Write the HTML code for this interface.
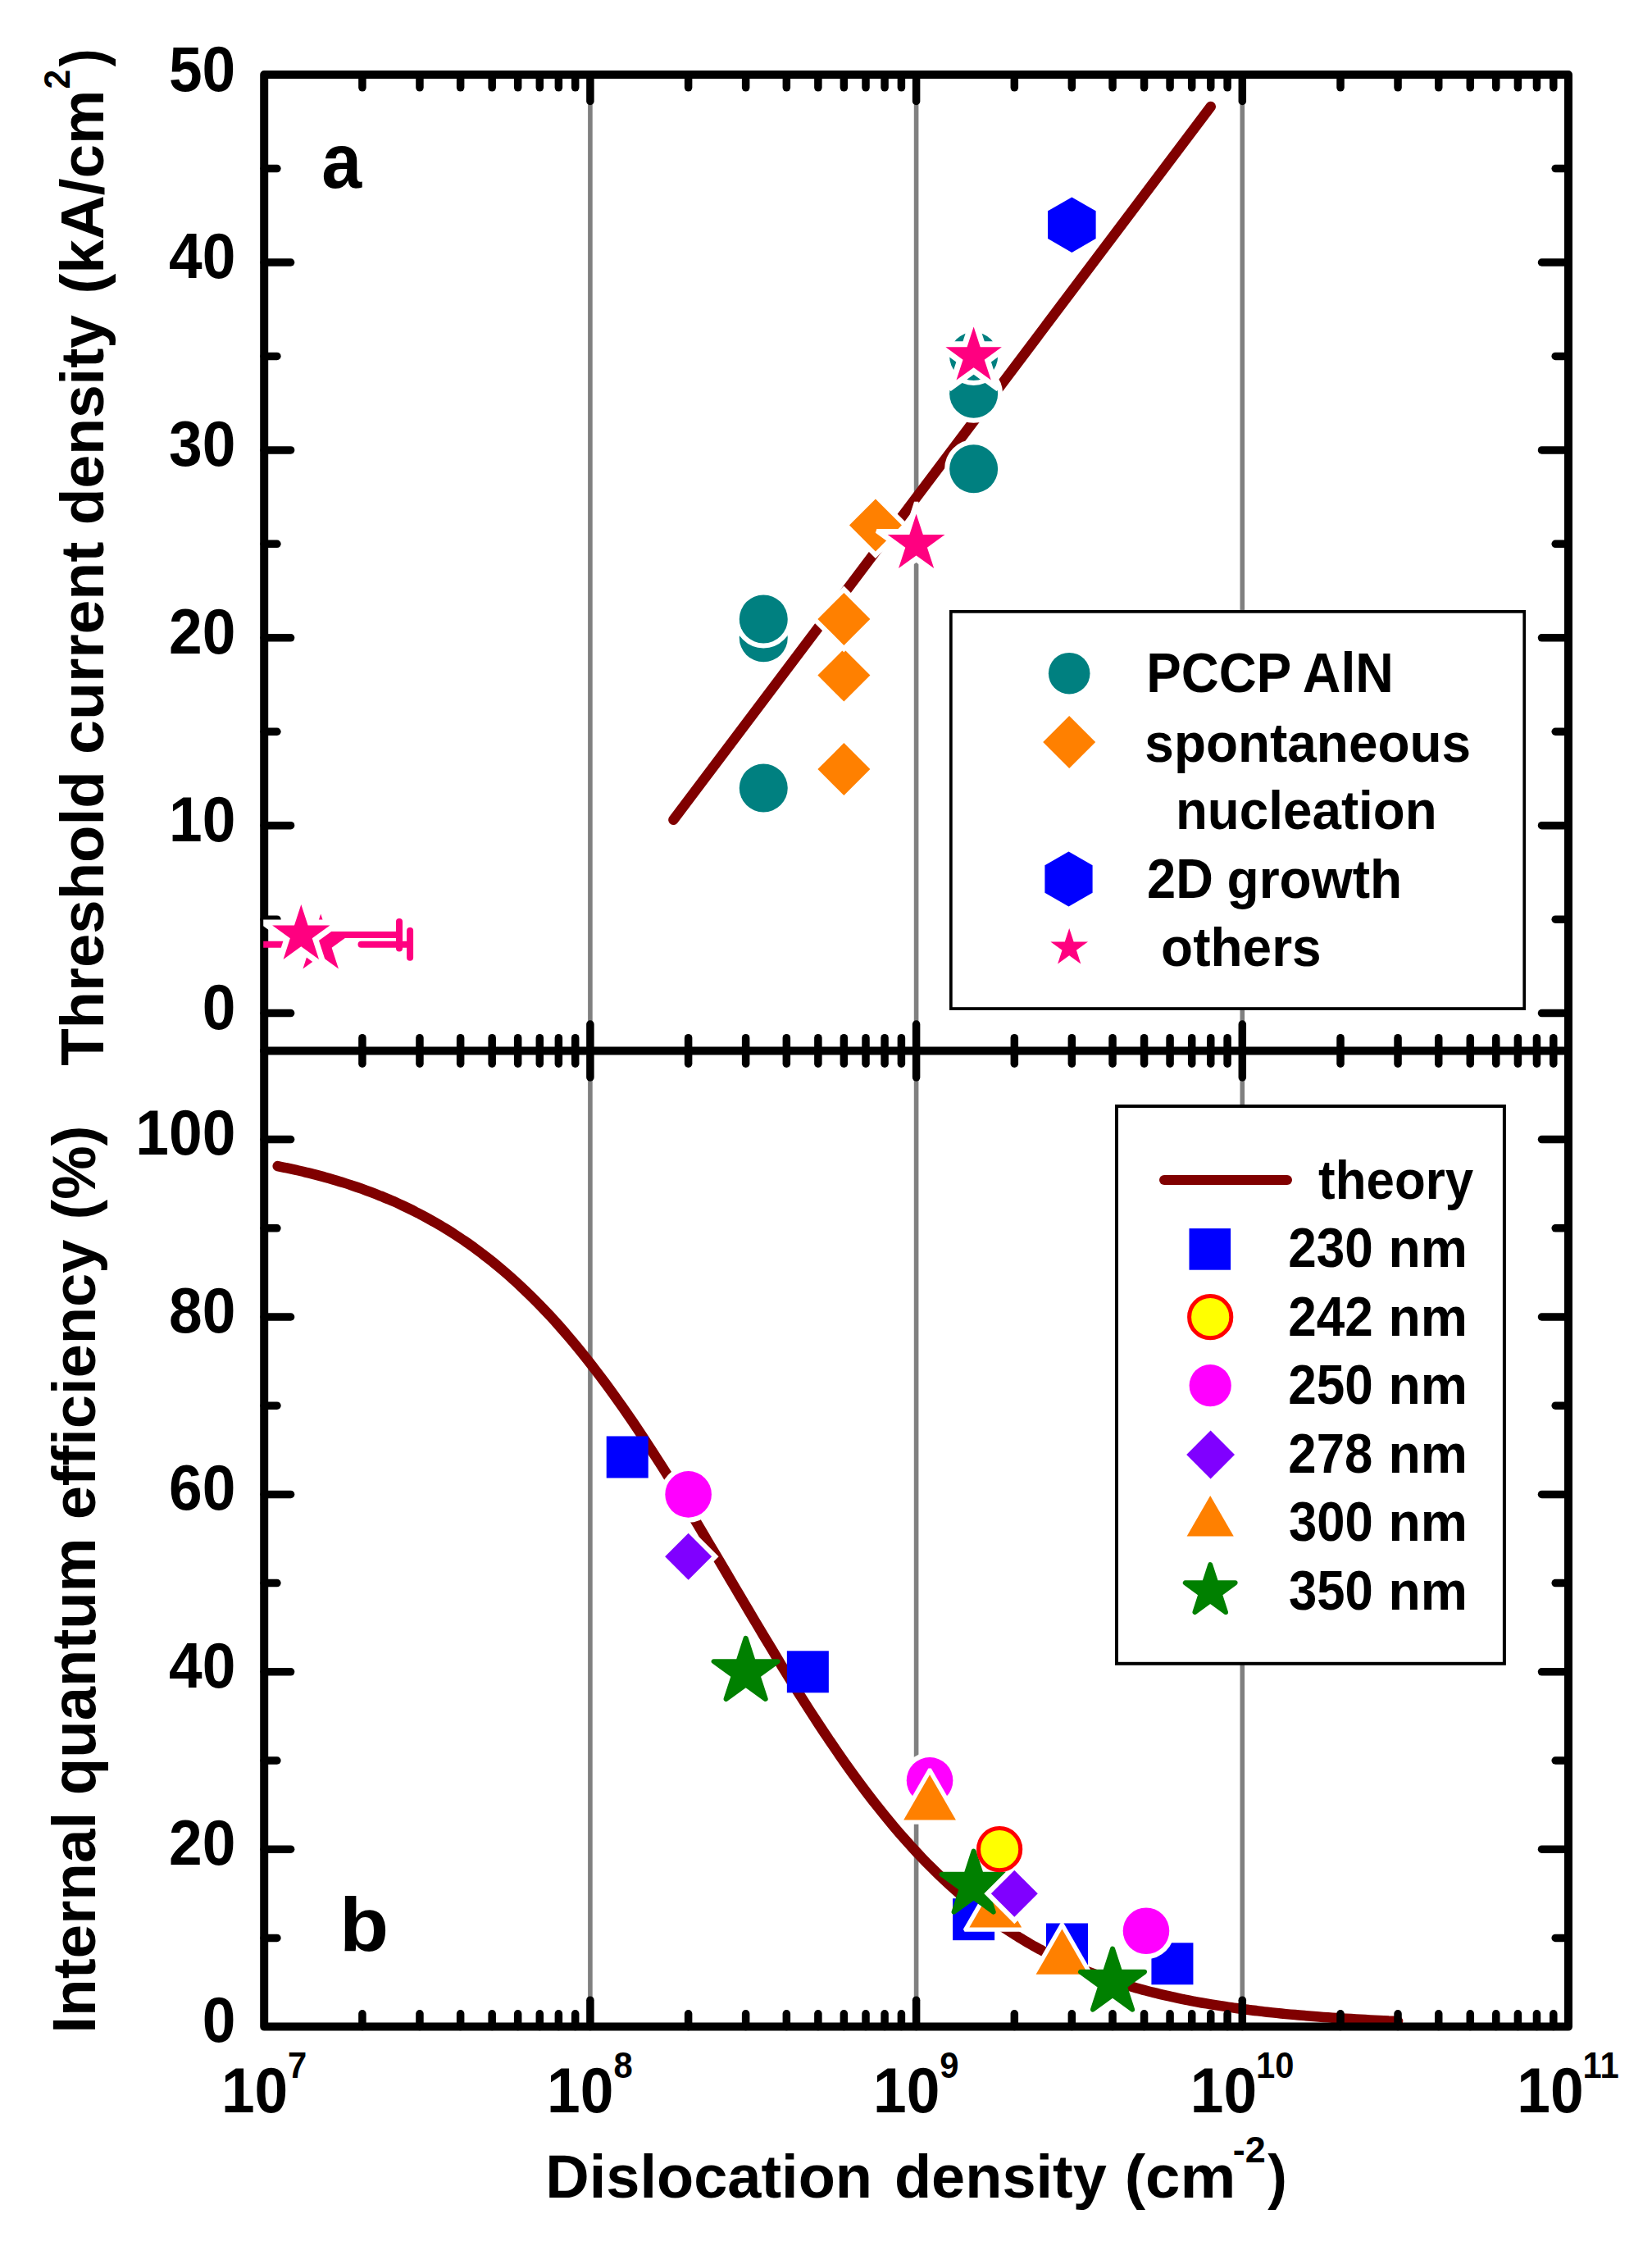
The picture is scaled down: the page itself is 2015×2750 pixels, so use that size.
<!DOCTYPE html><html><head><meta charset="utf-8"><title>Figure</title><style>html,body{margin:0;padding:0;background:#fff}svg{display:block}</style></head><body>
<svg width="2015" height="2750" viewBox="0 0 2015 2750">
<rect width="2015" height="2750" fill="#fff"/>
<defs><clipPath id="c1"><rect x="321.2" y="91.1" width="1592.8" height="1190.3"/></clipPath><clipPath id="c2"><rect x="321.2" y="1281.4" width="1592.8" height="1196.2"/></clipPath></defs>
<line x1="719.90" y1="91.1" x2="719.90" y2="2471.6" stroke="#808080" stroke-width="5.6"/>
<line x1="1117.60" y1="91.1" x2="1117.60" y2="2471.6" stroke="#808080" stroke-width="5.6"/>
<line x1="1515.30" y1="91.1" x2="1515.30" y2="2471.6" stroke="#808080" stroke-width="5.6"/>
<line x1="821.42" y1="999.85" x2="1476.76" y2="130.01" stroke="#800000" stroke-width="12.5" stroke-linecap="round"/>
<path d="M338.7,1422.1 C340.6,1422.5 346.3,1423.6 350.0,1424.4 C353.8,1425.2 357.6,1426.1 361.4,1426.9 C365.2,1427.8 369.0,1428.6 372.8,1429.6 C376.6,1430.5 380.4,1431.4 384.2,1432.4 C388.0,1433.4 391.8,1434.4 395.6,1435.4 C399.4,1436.5 403.2,1437.6 407.0,1438.7 C410.8,1439.8 414.6,1440.9 418.4,1442.1 C422.2,1443.3 426.0,1444.5 429.8,1445.8 C433.6,1447.1 437.3,1448.4 441.1,1449.7 C444.9,1451.1 448.7,1452.5 452.5,1453.9 C456.3,1455.3 460.1,1456.8 463.9,1458.4 C467.7,1459.9 471.5,1461.5 475.3,1463.1 C479.1,1464.7 482.9,1466.4 486.7,1468.1 C490.5,1469.9 494.3,1471.7 498.1,1473.5 C501.9,1475.3 505.7,1477.2 509.5,1479.2 C513.3,1481.1 517.1,1483.1 520.8,1485.2 C524.6,1487.3 528.4,1489.4 532.2,1491.6 C536.0,1493.8 539.8,1496.1 543.6,1498.4 C547.4,1500.7 551.2,1503.1 555.0,1505.6 C558.8,1508.1 562.6,1510.6 566.4,1513.2 C570.2,1515.8 574.0,1518.5 577.8,1521.2 C581.6,1524.0 585.4,1526.8 589.2,1529.7 C593.0,1532.6 596.8,1535.6 600.6,1538.6 C604.3,1541.7 608.1,1544.8 611.9,1548.0 C615.7,1551.2 619.5,1554.5 623.3,1557.9 C627.1,1561.3 630.9,1564.8 634.7,1568.3 C638.5,1571.9 642.3,1575.5 646.1,1579.2 C649.9,1582.9 653.7,1586.7 657.5,1590.6 C661.3,1594.5 665.1,1598.5 668.9,1602.6 C672.7,1606.6 676.5,1610.8 680.3,1615.0 C684.1,1619.3 687.9,1623.6 691.6,1628.0 C695.4,1632.4 699.2,1636.9 703.0,1641.5 C706.8,1646.1 710.6,1650.8 714.4,1655.6 C718.2,1660.4 722.0,1665.2 725.8,1670.2 C729.6,1675.1 733.4,1680.1 737.2,1685.2 C741.0,1690.3 744.8,1695.5 748.6,1700.8 C752.4,1706.1 756.2,1711.4 760.0,1716.8 C763.8,1722.3 767.6,1727.8 771.4,1733.4 C775.1,1738.9 778.9,1744.6 782.7,1750.3 C786.5,1756.0 790.3,1761.8 794.1,1767.7 C797.9,1773.5 801.7,1779.4 805.5,1785.4 C809.3,1791.3 813.1,1797.4 816.9,1803.5 C820.7,1809.5 824.5,1815.7 828.3,1821.8 C832.1,1828.0 835.9,1834.2 839.7,1840.5 C843.5,1846.7 847.3,1853.0 851.1,1859.3 C854.9,1865.6 858.6,1872.0 862.4,1878.4 C866.2,1884.7 870.0,1891.1 873.8,1897.5 C877.6,1904.0 881.4,1910.4 885.2,1916.8 C889.0,1923.2 892.8,1929.7 896.6,1936.1 C900.4,1942.5 904.2,1949.0 908.0,1955.4 C911.8,1961.8 915.6,1968.2 919.4,1974.6 C923.2,1981.0 927.0,1987.3 930.8,1993.7 C934.6,2000.0 938.4,2006.4 942.2,2012.6 C945.9,2018.9 949.7,2025.2 953.5,2031.4 C957.3,2037.6 961.1,2043.8 964.9,2049.9 C968.7,2056.0 972.5,2062.1 976.3,2068.1 C980.1,2074.1 983.9,2080.1 987.7,2086.0 C991.5,2091.9 995.3,2097.7 999.1,2103.5 C1002.9,2109.3 1006.7,2115.0 1010.5,2120.6 C1014.3,2126.2 1018.1,2131.8 1021.9,2137.3 C1025.7,2142.8 1029.4,2148.2 1033.2,2153.5 C1037.0,2158.9 1040.8,2164.1 1044.6,2169.3 C1048.4,2174.5 1052.2,2179.6 1056.0,2184.6 C1059.8,2189.6 1063.6,2194.6 1067.4,2199.4 C1071.2,2204.2 1075.0,2209.0 1078.8,2213.7 C1082.6,2218.3 1086.4,2222.9 1090.2,2227.4 C1094.0,2231.9 1097.8,2236.3 1101.6,2240.7 C1105.4,2245.0 1109.2,2249.2 1112.9,2253.3 C1116.7,2257.5 1120.5,2261.5 1124.3,2265.5 C1128.1,2269.5 1131.9,2273.4 1135.7,2277.1 C1139.5,2280.9 1143.3,2284.6 1147.1,2288.3 C1150.9,2291.9 1154.7,2295.4 1158.5,2298.9 C1162.3,2302.3 1166.1,2305.7 1169.9,2309.0 C1173.7,2312.3 1177.5,2315.5 1181.3,2318.6 C1185.1,2321.7 1188.9,2324.8 1192.7,2327.7 C1196.5,2330.7 1200.2,2333.6 1204.0,2336.4 C1207.8,2339.2 1211.6,2341.9 1215.4,2344.6 C1219.2,2347.3 1223.0,2349.9 1226.8,2352.4 C1230.6,2354.9 1234.4,2357.4 1238.2,2359.7 C1242.0,2362.1 1245.8,2364.4 1249.6,2366.7 C1253.4,2369.0 1257.2,2371.1 1261.0,2373.3 C1264.8,2375.4 1268.6,2377.5 1272.4,2379.5 C1276.2,2381.5 1280.0,2383.4 1283.7,2385.3 C1287.5,2387.2 1291.3,2389.0 1295.1,2390.8 C1298.9,2392.6 1302.7,2394.3 1306.5,2396.0 C1310.3,2397.6 1314.1,2399.3 1317.9,2400.8 C1321.7,2402.4 1325.5,2403.9 1329.3,2405.4 C1333.1,2406.9 1336.9,2408.3 1340.7,2409.7 C1344.5,2411.1 1348.3,2412.4 1352.1,2413.7 C1355.9,2415.0 1359.7,2416.3 1363.5,2417.5 C1367.2,2418.7 1371.0,2419.9 1374.8,2421.1 C1378.6,2422.2 1382.4,2423.3 1386.2,2424.4 C1390.0,2425.5 1393.8,2426.5 1397.6,2427.5 C1401.4,2428.5 1405.2,2429.5 1409.0,2430.4 C1412.8,2431.4 1416.6,2432.3 1420.4,2433.2 C1424.2,2434.1 1428.0,2434.9 1431.8,2435.7 C1435.6,2436.6 1439.4,2437.3 1443.2,2438.1 C1447.0,2438.9 1450.8,2439.6 1454.5,2440.4 C1458.3,2441.1 1462.1,2441.8 1465.9,2442.5 C1469.7,2443.1 1473.5,2443.8 1477.3,2444.4 C1481.1,2445.0 1484.9,2445.6 1488.7,2446.2 C1492.5,2446.8 1496.3,2447.4 1500.1,2447.9 C1503.9,2448.5 1507.7,2449.0 1511.5,2449.5 C1515.3,2450.1 1519.1,2450.5 1522.9,2451.0 C1526.7,2451.5 1530.5,2452.0 1534.3,2452.4 C1538.0,2452.9 1541.8,2453.3 1545.6,2453.7 C1549.4,2454.1 1553.2,2454.5 1557.0,2454.9 C1560.8,2455.3 1564.6,2455.7 1568.4,2456.1 C1572.2,2456.4 1576.0,2456.8 1579.8,2457.1 C1583.6,2457.5 1587.4,2457.8 1591.2,2458.1 C1595.0,2458.4 1598.8,2458.7 1602.6,2459.0 C1606.4,2459.3 1610.2,2459.6 1614.0,2459.9 C1617.8,2460.2 1621.5,2460.4 1625.3,2460.7 C1629.1,2460.9 1632.9,2461.2 1636.7,2461.4 C1640.5,2461.7 1644.3,2461.9 1648.1,2462.1 C1651.9,2462.3 1655.7,2462.6 1659.5,2462.8 C1663.3,2463.0 1667.1,2463.2 1670.9,2463.4 C1674.7,2463.6 1678.5,2463.7 1682.3,2463.9 C1686.1,2464.1 1689.9,2464.3 1693.7,2464.5 C1697.5,2464.6 1703.2,2464.9 1705.1,2464.9" fill="none" stroke="#800000" stroke-width="12.5" stroke-linecap="round" stroke-linejoin="round"/>
<g stroke="#000" stroke-width="10" stroke-linecap="round" fill="none">
<path d="M322.2,91.1 H1913.0 V2471.6 H322.2 Z" stroke-linejoin="round"/>
<line x1="322.2" y1="1281.4" x2="1913.0" y2="1281.4"/>
</g>
<g stroke="#000" stroke-width="9.5" stroke-linecap="round">
<line x1="441.92" y1="91.1" x2="441.92" y2="106.8"/>
<line x1="441.92" y1="1265.7" x2="441.92" y2="1297.2"/>
<line x1="441.92" y1="2471.6" x2="441.92" y2="2455.8"/>
<line x1="511.95" y1="91.1" x2="511.95" y2="106.8"/>
<line x1="511.95" y1="1265.7" x2="511.95" y2="1297.2"/>
<line x1="511.95" y1="2471.6" x2="511.95" y2="2455.8"/>
<line x1="561.64" y1="91.1" x2="561.64" y2="106.8"/>
<line x1="561.64" y1="1265.7" x2="561.64" y2="1297.2"/>
<line x1="561.64" y1="2471.6" x2="561.64" y2="2455.8"/>
<line x1="600.18" y1="91.1" x2="600.18" y2="106.8"/>
<line x1="600.18" y1="1265.7" x2="600.18" y2="1297.2"/>
<line x1="600.18" y1="2471.6" x2="600.18" y2="2455.8"/>
<line x1="631.67" y1="91.1" x2="631.67" y2="106.8"/>
<line x1="631.67" y1="1265.7" x2="631.67" y2="1297.2"/>
<line x1="631.67" y1="2471.6" x2="631.67" y2="2455.8"/>
<line x1="658.30" y1="91.1" x2="658.30" y2="106.8"/>
<line x1="658.30" y1="1265.7" x2="658.30" y2="1297.2"/>
<line x1="658.30" y1="2471.6" x2="658.30" y2="2455.8"/>
<line x1="681.36" y1="91.1" x2="681.36" y2="106.8"/>
<line x1="681.36" y1="1265.7" x2="681.36" y2="1297.2"/>
<line x1="681.36" y1="2471.6" x2="681.36" y2="2455.8"/>
<line x1="701.70" y1="91.1" x2="701.70" y2="106.8"/>
<line x1="701.70" y1="1265.7" x2="701.70" y2="1297.2"/>
<line x1="701.70" y1="2471.6" x2="701.70" y2="2455.8"/>
<line x1="719.90" y1="91.1" x2="719.90" y2="123.5"/>
<line x1="719.90" y1="1249.0" x2="719.90" y2="1313.9"/>
<line x1="719.90" y1="2471.6" x2="719.90" y2="2439.2"/>
<line x1="839.62" y1="91.1" x2="839.62" y2="106.8"/>
<line x1="839.62" y1="1265.7" x2="839.62" y2="1297.2"/>
<line x1="839.62" y1="2471.6" x2="839.62" y2="2455.8"/>
<line x1="909.65" y1="91.1" x2="909.65" y2="106.8"/>
<line x1="909.65" y1="1265.7" x2="909.65" y2="1297.2"/>
<line x1="909.65" y1="2471.6" x2="909.65" y2="2455.8"/>
<line x1="959.34" y1="91.1" x2="959.34" y2="106.8"/>
<line x1="959.34" y1="1265.7" x2="959.34" y2="1297.2"/>
<line x1="959.34" y1="2471.6" x2="959.34" y2="2455.8"/>
<line x1="997.88" y1="91.1" x2="997.88" y2="106.8"/>
<line x1="997.88" y1="1265.7" x2="997.88" y2="1297.2"/>
<line x1="997.88" y1="2471.6" x2="997.88" y2="2455.8"/>
<line x1="1029.37" y1="91.1" x2="1029.37" y2="106.8"/>
<line x1="1029.37" y1="1265.7" x2="1029.37" y2="1297.2"/>
<line x1="1029.37" y1="2471.6" x2="1029.37" y2="2455.8"/>
<line x1="1056.00" y1="91.1" x2="1056.00" y2="106.8"/>
<line x1="1056.00" y1="1265.7" x2="1056.00" y2="1297.2"/>
<line x1="1056.00" y1="2471.6" x2="1056.00" y2="2455.8"/>
<line x1="1079.06" y1="91.1" x2="1079.06" y2="106.8"/>
<line x1="1079.06" y1="1265.7" x2="1079.06" y2="1297.2"/>
<line x1="1079.06" y1="2471.6" x2="1079.06" y2="2455.8"/>
<line x1="1099.40" y1="91.1" x2="1099.40" y2="106.8"/>
<line x1="1099.40" y1="1265.7" x2="1099.40" y2="1297.2"/>
<line x1="1099.40" y1="2471.6" x2="1099.40" y2="2455.8"/>
<line x1="1117.60" y1="91.1" x2="1117.60" y2="123.5"/>
<line x1="1117.60" y1="1249.0" x2="1117.60" y2="1313.9"/>
<line x1="1117.60" y1="2471.6" x2="1117.60" y2="2439.2"/>
<line x1="1237.32" y1="91.1" x2="1237.32" y2="106.8"/>
<line x1="1237.32" y1="1265.7" x2="1237.32" y2="1297.2"/>
<line x1="1237.32" y1="2471.6" x2="1237.32" y2="2455.8"/>
<line x1="1307.35" y1="91.1" x2="1307.35" y2="106.8"/>
<line x1="1307.35" y1="1265.7" x2="1307.35" y2="1297.2"/>
<line x1="1307.35" y1="2471.6" x2="1307.35" y2="2455.8"/>
<line x1="1357.04" y1="91.1" x2="1357.04" y2="106.8"/>
<line x1="1357.04" y1="1265.7" x2="1357.04" y2="1297.2"/>
<line x1="1357.04" y1="2471.6" x2="1357.04" y2="2455.8"/>
<line x1="1395.58" y1="91.1" x2="1395.58" y2="106.8"/>
<line x1="1395.58" y1="1265.7" x2="1395.58" y2="1297.2"/>
<line x1="1395.58" y1="2471.6" x2="1395.58" y2="2455.8"/>
<line x1="1427.07" y1="91.1" x2="1427.07" y2="106.8"/>
<line x1="1427.07" y1="1265.7" x2="1427.07" y2="1297.2"/>
<line x1="1427.07" y1="2471.6" x2="1427.07" y2="2455.8"/>
<line x1="1453.70" y1="91.1" x2="1453.70" y2="106.8"/>
<line x1="1453.70" y1="1265.7" x2="1453.70" y2="1297.2"/>
<line x1="1453.70" y1="2471.6" x2="1453.70" y2="2455.8"/>
<line x1="1476.76" y1="91.1" x2="1476.76" y2="106.8"/>
<line x1="1476.76" y1="1265.7" x2="1476.76" y2="1297.2"/>
<line x1="1476.76" y1="2471.6" x2="1476.76" y2="2455.8"/>
<line x1="1497.10" y1="91.1" x2="1497.10" y2="106.8"/>
<line x1="1497.10" y1="1265.7" x2="1497.10" y2="1297.2"/>
<line x1="1497.10" y1="2471.6" x2="1497.10" y2="2455.8"/>
<line x1="1515.30" y1="91.1" x2="1515.30" y2="123.5"/>
<line x1="1515.30" y1="1249.0" x2="1515.30" y2="1313.9"/>
<line x1="1515.30" y1="2471.6" x2="1515.30" y2="2439.2"/>
<line x1="1635.02" y1="91.1" x2="1635.02" y2="106.8"/>
<line x1="1635.02" y1="1265.7" x2="1635.02" y2="1297.2"/>
<line x1="1635.02" y1="2471.6" x2="1635.02" y2="2455.8"/>
<line x1="1705.05" y1="91.1" x2="1705.05" y2="106.8"/>
<line x1="1705.05" y1="1265.7" x2="1705.05" y2="1297.2"/>
<line x1="1705.05" y1="2471.6" x2="1705.05" y2="2455.8"/>
<line x1="1754.74" y1="91.1" x2="1754.74" y2="106.8"/>
<line x1="1754.74" y1="1265.7" x2="1754.74" y2="1297.2"/>
<line x1="1754.74" y1="2471.6" x2="1754.74" y2="2455.8"/>
<line x1="1793.28" y1="91.1" x2="1793.28" y2="106.8"/>
<line x1="1793.28" y1="1265.7" x2="1793.28" y2="1297.2"/>
<line x1="1793.28" y1="2471.6" x2="1793.28" y2="2455.8"/>
<line x1="1824.77" y1="91.1" x2="1824.77" y2="106.8"/>
<line x1="1824.77" y1="1265.7" x2="1824.77" y2="1297.2"/>
<line x1="1824.77" y1="2471.6" x2="1824.77" y2="2455.8"/>
<line x1="1851.40" y1="91.1" x2="1851.40" y2="106.8"/>
<line x1="1851.40" y1="1265.7" x2="1851.40" y2="1297.2"/>
<line x1="1851.40" y1="2471.6" x2="1851.40" y2="2455.8"/>
<line x1="1874.46" y1="91.1" x2="1874.46" y2="106.8"/>
<line x1="1874.46" y1="1265.7" x2="1874.46" y2="1297.2"/>
<line x1="1874.46" y1="2471.6" x2="1874.46" y2="2455.8"/>
<line x1="1894.80" y1="91.1" x2="1894.80" y2="106.8"/>
<line x1="1894.80" y1="1265.7" x2="1894.80" y2="1297.2"/>
<line x1="1894.80" y1="2471.6" x2="1894.80" y2="2455.8"/>
<line x1="322.2" y1="1235.62" x2="354.6" y2="1235.62"/>
<line x1="1913.0" y1="1235.62" x2="1880.5" y2="1235.62"/>
<line x1="322.2" y1="1121.17" x2="337.9" y2="1121.17"/>
<line x1="1913.0" y1="1121.17" x2="1897.2" y2="1121.17"/>
<line x1="322.2" y1="1006.72" x2="354.6" y2="1006.72"/>
<line x1="1913.0" y1="1006.72" x2="1880.5" y2="1006.72"/>
<line x1="322.2" y1="892.26" x2="337.9" y2="892.26"/>
<line x1="1913.0" y1="892.26" x2="1897.2" y2="892.26"/>
<line x1="322.2" y1="777.81" x2="354.6" y2="777.81"/>
<line x1="1913.0" y1="777.81" x2="1880.5" y2="777.81"/>
<line x1="322.2" y1="663.36" x2="337.9" y2="663.36"/>
<line x1="1913.0" y1="663.36" x2="1897.2" y2="663.36"/>
<line x1="322.2" y1="548.91" x2="354.6" y2="548.91"/>
<line x1="1913.0" y1="548.91" x2="1880.5" y2="548.91"/>
<line x1="322.2" y1="434.46" x2="337.9" y2="434.46"/>
<line x1="1913.0" y1="434.46" x2="1897.2" y2="434.46"/>
<line x1="322.2" y1="320.00" x2="354.6" y2="320.00"/>
<line x1="1913.0" y1="320.00" x2="1880.5" y2="320.00"/>
<line x1="322.2" y1="205.55" x2="337.9" y2="205.55"/>
<line x1="1913.0" y1="205.55" x2="1897.2" y2="205.55"/>
<line x1="322.2" y1="2363.40" x2="337.9" y2="2363.40"/>
<line x1="1913.0" y1="2363.40" x2="1897.2" y2="2363.40"/>
<line x1="322.2" y1="2255.20" x2="354.6" y2="2255.20"/>
<line x1="1913.0" y1="2255.20" x2="1880.5" y2="2255.20"/>
<line x1="322.2" y1="2147.00" x2="337.9" y2="2147.00"/>
<line x1="1913.0" y1="2147.00" x2="1897.2" y2="2147.00"/>
<line x1="322.2" y1="2038.80" x2="354.6" y2="2038.80"/>
<line x1="1913.0" y1="2038.80" x2="1880.5" y2="2038.80"/>
<line x1="322.2" y1="1930.60" x2="337.9" y2="1930.60"/>
<line x1="1913.0" y1="1930.60" x2="1897.2" y2="1930.60"/>
<line x1="322.2" y1="1822.40" x2="354.6" y2="1822.40"/>
<line x1="1913.0" y1="1822.40" x2="1880.5" y2="1822.40"/>
<line x1="322.2" y1="1714.20" x2="337.9" y2="1714.20"/>
<line x1="1913.0" y1="1714.20" x2="1897.2" y2="1714.20"/>
<line x1="322.2" y1="1606.00" x2="354.6" y2="1606.00"/>
<line x1="1913.0" y1="1606.00" x2="1880.5" y2="1606.00"/>
<line x1="322.2" y1="1497.80" x2="337.9" y2="1497.80"/>
<line x1="1913.0" y1="1497.80" x2="1897.2" y2="1497.80"/>
<line x1="322.2" y1="1389.60" x2="354.6" y2="1389.60"/>
<line x1="1913.0" y1="1389.60" x2="1880.5" y2="1389.60"/>
</g>
<g clip-path="url(#c1)">
<circle cx="931.27" cy="960.93" r="29.5" fill="#008080" stroke="#fff" stroke-width="12" stroke-linejoin="miter" stroke-miterlimit="10" paint-order="stroke"/>
<circle cx="931.27" cy="777.81" r="29.5" fill="#008080" stroke="#fff" stroke-width="12" stroke-linejoin="miter" stroke-miterlimit="10" paint-order="stroke"/>
<circle cx="931.27" cy="754.92" r="29.5" fill="#008080" stroke="#fff" stroke-width="12" stroke-linejoin="miter" stroke-miterlimit="10" paint-order="stroke"/>
<circle cx="1187.63" cy="571.80" r="29.5" fill="#008080" stroke="#fff" stroke-width="12" stroke-linejoin="miter" stroke-miterlimit="10" paint-order="stroke"/>
<circle cx="1187.63" cy="480.24" r="29.5" fill="#008080" stroke="#fff" stroke-width="12" stroke-linejoin="miter" stroke-miterlimit="10" paint-order="stroke"/>
<circle cx="1187.63" cy="434.46" r="29.5" fill="#008080" stroke="#fff" stroke-width="12" stroke-linejoin="miter" stroke-miterlimit="10" paint-order="stroke"/>
<polygon points="1029.37,906.04 1061.37,938.04 1029.37,970.04 997.37,938.04" fill="#FF8000" stroke="#fff" stroke-width="12" stroke-linejoin="miter" stroke-miterlimit="10" paint-order="stroke"/>
<polygon points="1029.37,791.59 1061.37,823.59 1029.37,855.59 997.37,823.59" fill="#FF8000" stroke="#fff" stroke-width="12" stroke-linejoin="miter" stroke-miterlimit="10" paint-order="stroke"/>
<polygon points="1029.37,722.92 1061.37,754.92 1029.37,786.92 997.37,754.92" fill="#FF8000" stroke="#fff" stroke-width="12" stroke-linejoin="miter" stroke-miterlimit="10" paint-order="stroke"/>
<polygon points="1067.91,608.47 1099.91,640.47 1067.91,672.47 1035.91,640.47" fill="#FF8000" stroke="#fff" stroke-width="12" stroke-linejoin="miter" stroke-miterlimit="10" paint-order="stroke"/>
<polygon points="1307.35,240.42 1336.62,257.32 1336.62,291.12 1307.35,308.02 1278.08,291.12 1278.08,257.32" fill="#0000FF"/>
<g stroke="#FF0080" stroke-width="8" stroke-linecap="round">
<line x1="300" y1="1151.8" x2="391" y2="1151.8"/>
</g>
<polygon points="388.65,1099.70 393.75,1099.70 404.59,1133.07 439.68,1133.07 441.25,1137.92 412.87,1158.54 423.71,1191.91 419.58,1194.91 391.20,1174.29 362.82,1194.91 358.69,1191.91 369.53,1158.54 341.15,1137.92 342.72,1133.07 377.81,1133.07" fill="#fff"/>
<polygon points="391.20,1114.50 399.51,1140.07 426.39,1140.07 404.64,1155.87 412.95,1181.43 391.20,1165.63 369.45,1181.43 377.76,1155.87 356.01,1140.07 382.89,1140.07" fill="#FF0080"/>
<g stroke="#FF0080" stroke-width="8" stroke-linecap="round">
<line x1="440.5" y1="1151.8" x2="500" y2="1151.8"/><line x1="500.1" y1="1135.1" x2="500.1" y2="1167.8"/>
<line x1="400" y1="1140" x2="487" y2="1140"/><line x1="487" y1="1124" x2="487" y2="1156.6"/>
</g>
<polygon points="364.75,1088.20 369.85,1088.20 380.69,1121.57 415.78,1121.57 417.35,1126.42 388.97,1147.04 399.81,1180.41 395.68,1183.41 367.30,1162.79 338.92,1183.41 334.79,1180.41 345.63,1147.04 317.25,1126.42 318.82,1121.57 353.91,1121.57" fill="#fff"/>
<polygon points="367.30,1103.00 375.61,1128.57 402.49,1128.57 380.74,1144.37 389.05,1169.93 367.30,1154.13 345.55,1169.93 353.86,1144.37 332.11,1128.57 358.99,1128.57" fill="#FF0080"/>
<polygon points="1115.05,611.86 1120.15,611.86 1130.93,645.02 1165.79,645.02 1167.37,649.87 1139.16,670.37 1149.93,703.52 1145.81,706.52 1117.60,686.03 1089.39,706.52 1085.27,703.52 1096.04,670.37 1067.83,649.87 1069.41,645.02 1104.27,645.02" fill="#fff"/>
<polygon points="1117.60,626.66 1125.84,652.02 1152.50,652.02 1130.93,667.69 1139.17,693.05 1117.60,677.38 1096.03,693.05 1104.27,667.69 1082.70,652.02 1109.36,652.02" fill="#FF0080"/>
<polygon points="1185.08,383.66 1190.18,383.66 1200.80,416.33 1235.16,416.33 1236.73,421.18 1208.94,441.38 1219.55,474.05 1215.43,477.05 1187.63,456.86 1159.84,477.05 1155.71,474.05 1166.32,441.38 1138.53,421.18 1140.11,416.33 1174.46,416.33" fill="#fff"/>
<polygon points="1187.63,398.46 1195.71,423.33 1221.87,423.33 1200.71,438.71 1208.79,463.58 1187.63,448.21 1166.47,463.58 1174.55,438.71 1153.39,423.33 1179.55,423.33" fill="#FF0080"/>
</g>
<g clip-path="url(#c2)">
<rect x="739.72" y="1751.46" width="51.0" height="51.0" fill="#0000FF"/>
<rect x="959.85" y="2013.30" width="51.0" height="51.0" fill="#0000FF"/>
<rect x="1162.13" y="2315.18" width="51.0" height="51.0" fill="#0000FF"/>
<rect x="1276.00" y="2345.47" width="51.0" height="51.0" fill="#0000FF"/>
<rect x="1404.43" y="2369.28" width="51.0" height="51.0" fill="#0000FF"/>
<circle cx="839.62" cy="1822.40" r="28.3" fill="#FF00FF" stroke="#fff" stroke-width="12" stroke-linejoin="miter" stroke-miterlimit="10" paint-order="stroke"/>
<circle cx="1134.06" cy="2171.34" r="28.3" fill="#FF00FF" stroke="#fff" stroke-width="12" stroke-linejoin="miter" stroke-miterlimit="10" paint-order="stroke"/>
<circle cx="1397.98" cy="2354.74" r="28.3" fill="#FF00FF" stroke="#fff" stroke-width="12" stroke-linejoin="miter" stroke-miterlimit="10" paint-order="stroke"/>
<polygon points="1132.39,2156.60 1135.74,2156.60 1173.44,2221.90 1171.76,2224.80 1096.36,2224.80 1094.69,2221.90" fill="#fff"/>
<polygon points="1134.06,2164.30 1165.93,2219.50 1102.19,2219.50" fill="#FF8000"/>
<polygon points="1212.58,2287.52 1215.93,2287.52 1253.63,2352.82 1251.96,2355.72 1176.56,2355.72 1174.88,2352.82" fill="#fff"/>
<polygon points="1214.26,2295.22 1246.13,2350.42 1182.39,2350.42" fill="#FF8000"/>
<polygon points="1293.76,2344.87 1297.11,2344.87 1334.81,2410.17 1333.14,2413.07 1257.73,2413.07 1256.06,2410.17" fill="#fff"/>
<polygon points="1295.43,2352.57 1327.30,2407.77 1263.57,2407.77" fill="#FF8000"/>
<polygon points="909.65,1997.80 918.86,2026.13 948.64,2026.13 924.55,2043.64 933.75,2071.97 909.65,2054.46 885.55,2071.97 894.76,2043.64 870.66,2026.13 900.45,2026.13" fill="#008000" stroke="#008000" stroke-width="6.0" stroke-linejoin="round"/>
<polygon points="1187.63,2257.48 1196.84,2285.81 1226.62,2285.81 1202.53,2303.32 1211.73,2331.65 1187.63,2314.14 1163.53,2331.65 1172.74,2303.32 1148.64,2285.81 1178.43,2285.81" fill="#008000" stroke="#008000" stroke-width="6.0" stroke-linejoin="round"/>
<polygon points="1357.04,2376.50 1366.25,2404.83 1396.03,2404.83 1371.93,2422.34 1381.14,2450.67 1357.04,2433.16 1332.94,2450.67 1342.14,2422.34 1318.05,2404.83 1347.83,2404.83" fill="#008000" stroke="#008000" stroke-width="6.0" stroke-linejoin="round"/>
<polygon points="839.62,1869.64 868.12,1898.14 839.62,1926.64 811.12,1898.14" fill="#8000FF" stroke="#fff" stroke-width="12" stroke-linejoin="miter" stroke-miterlimit="10" paint-order="stroke"/>
<polygon points="1237.32,2280.80 1265.82,2309.30 1237.32,2337.80 1208.82,2309.30" fill="#8000FF" stroke="#fff" stroke-width="12" stroke-linejoin="miter" stroke-miterlimit="10" paint-order="stroke"/>
<circle cx="1219.12" cy="2255.20" r="25.6" fill="#FFFF00" stroke="#FF0000" stroke-width="5"/>
</g>
<rect x="1159.85" y="745.85" width="699.4" height="484.2" fill="#fff" stroke="#000" stroke-width="3.7"/>
<circle cx="1304.20" cy="821.20" r="25.3" fill="#008080"/>
<polygon points="1304.20,873.00 1336.20,905.00 1304.20,937.00 1272.20,905.00" fill="#FF8000"/>
<polygon points="1303.50,1038.40 1332.60,1055.20 1332.60,1088.80 1303.50,1105.60 1274.40,1088.80 1274.40,1055.20" fill="#0000FF"/>
<polygon points="1304.20,1132.00 1309.59,1148.58 1327.03,1148.58 1312.92,1158.83 1318.31,1175.42 1304.20,1165.17 1290.09,1175.42 1295.48,1158.83 1281.37,1148.58 1298.81,1148.58" fill="#FF0080"/>
<text transform="translate(1402.60,844.00) scale(0.9231,1)" x="-4.62" y="0" font-size="69" font-family="'Liberation Sans', sans-serif" font-weight="bold" fill="#000">PCCP</text>
<text transform="translate(1590.40,844.00) scale(0.9354,1)" x="-1.73" y="0" font-size="69" font-family="'Liberation Sans', sans-serif" font-weight="bold" fill="#000">AlN</text>
<text transform="translate(1398.60,928.50) scale(0.9540,1)" x="-2.35" y="0" font-size="67" font-family="'Liberation Sans', sans-serif" font-weight="bold" fill="#000">spontaneous</text>
<text transform="translate(1438.10,1011.00) scale(0.9519,1)" x="-4.42" y="0" font-size="67" font-family="'Liberation Sans', sans-serif" font-weight="bold" fill="#000">nucleation</text>
<text transform="translate(1401.30,1094.60) scale(0.9159,1)" x="-2.42" y="0" font-size="69" font-family="'Liberation Sans', sans-serif" font-weight="bold" fill="#000">2D</text>
<text transform="translate(1499.10,1094.60) scale(0.9574,1)" x="-2.75" y="0" font-size="67" font-family="'Liberation Sans', sans-serif" font-weight="bold" fill="#000">growth</text>
<text transform="translate(1418.60,1177.70) scale(0.9549,1)" x="-2.61" y="0" font-size="67" font-family="'Liberation Sans', sans-serif" font-weight="bold" fill="#000">others</text>
<rect x="1362" y="1349" width="472.9" height="679.8" fill="#fff" stroke="#000" stroke-width="4"/>
<line x1="1420" y1="1439.1" x2="1570" y2="1439.1" stroke="#800000" stroke-width="12" stroke-linecap="round"/>
<text transform="translate(1608.80,1461.60) scale(0.9238,1)" x="-0.80" y="0" font-size="67" font-family="'Liberation Sans', sans-serif" font-weight="bold" fill="#000">theory</text>
<rect x="1450.50" y="1498.10" width="50.6" height="50.6" fill="#0000FF"/>
<circle cx="1476.2" cy="1606.2" r="25.6" fill="#FFFF00" stroke="#FF0000" stroke-width="5"/>
<circle cx="1476.20" cy="1689.70" r="25.6" fill="#FF00FF"/>
<polygon points="1476.60,1744.60 1506.00,1774.00 1476.60,1803.40 1447.20,1774.00" fill="#8000FF"/>
<polygon points="1476.20,1824.00 1504.78,1873.50 1447.62,1873.50" fill="#FF8000"/>
<polygon points="1476.20,1908.20 1483.39,1930.31 1506.63,1930.31 1487.83,1943.98 1495.01,1966.09 1476.20,1952.42 1457.39,1966.09 1464.57,1943.98 1445.77,1930.31 1469.01,1930.31" fill="#008000" stroke="#008000" stroke-width="6.0" stroke-linejoin="round"/>
<text transform="translate(1573.50,1545.20) scale(0.8994,1)" x="-2.42" y="0" font-size="69" font-family="'Liberation Sans', sans-serif" font-weight="bold" fill="#000">230</text>
<text transform="translate(1697.70,1545.20) scale(0.9606,1)" x="-4.42" y="0" font-size="67" font-family="'Liberation Sans', sans-serif" font-weight="bold" fill="#000">nm</text>
<text transform="translate(1573.50,1628.75) scale(0.8989,1)" x="-2.42" y="0" font-size="69" font-family="'Liberation Sans', sans-serif" font-weight="bold" fill="#000">242</text>
<text transform="translate(1697.70,1628.75) scale(0.9606,1)" x="-4.42" y="0" font-size="67" font-family="'Liberation Sans', sans-serif" font-weight="bold" fill="#000">nm</text>
<text transform="translate(1573.50,1712.30) scale(0.8994,1)" x="-2.42" y="0" font-size="69" font-family="'Liberation Sans', sans-serif" font-weight="bold" fill="#000">250</text>
<text transform="translate(1697.70,1712.30) scale(0.9606,1)" x="-4.42" y="0" font-size="67" font-family="'Liberation Sans', sans-serif" font-weight="bold" fill="#000">nm</text>
<text transform="translate(1573.50,1795.85) scale(0.8938,1)" x="-2.42" y="0" font-size="69" font-family="'Liberation Sans', sans-serif" font-weight="bold" fill="#000">278</text>
<text transform="translate(1697.70,1795.85) scale(0.9606,1)" x="-4.42" y="0" font-size="67" font-family="'Liberation Sans', sans-serif" font-weight="bold" fill="#000">nm</text>
<text transform="translate(1573.50,1879.40) scale(0.8927,1)" x="-1.59" y="0" font-size="69" font-family="'Liberation Sans', sans-serif" font-weight="bold" fill="#000">300</text>
<text transform="translate(1697.70,1879.40) scale(0.9606,1)" x="-4.42" y="0" font-size="67" font-family="'Liberation Sans', sans-serif" font-weight="bold" fill="#000">nm</text>
<text transform="translate(1573.50,1962.95) scale(0.8927,1)" x="-1.59" y="0" font-size="69" font-family="'Liberation Sans', sans-serif" font-weight="bold" fill="#000">350</text>
<text transform="translate(1697.70,1962.95) scale(0.9606,1)" x="-4.42" y="0" font-size="67" font-family="'Liberation Sans', sans-serif" font-weight="bold" fill="#000">nm</text>
<text transform="translate(249.55,1255.02) scale(0.9500,1)" x="-3.08" y="0" font-size="77" font-family="'Liberation Sans', sans-serif" font-weight="bold" fill="#000">0</text>
<text transform="translate(210.56,1026.12) scale(0.9500,1)" x="-4.85" y="0" font-size="77" font-family="'Liberation Sans', sans-serif" font-weight="bold" fill="#000">10</text>
<text transform="translate(208.52,797.21) scale(0.9500,1)" x="-2.70" y="0" font-size="77" font-family="'Liberation Sans', sans-serif" font-weight="bold" fill="#000">20</text>
<text transform="translate(207.64,568.31) scale(0.9500,1)" x="-1.77" y="0" font-size="77" font-family="'Liberation Sans', sans-serif" font-weight="bold" fill="#000">30</text>
<text transform="translate(207.05,339.40) scale(0.9500,1)" x="-1.16" y="0" font-size="77" font-family="'Liberation Sans', sans-serif" font-weight="bold" fill="#000">40</text>
<text transform="translate(208.22,110.50) scale(0.9500,1)" x="-2.39" y="0" font-size="77" font-family="'Liberation Sans', sans-serif" font-weight="bold" fill="#000">50</text>
<text transform="translate(249.55,2490.40) scale(0.9500,1)" x="-3.08" y="0" font-size="77" font-family="'Liberation Sans', sans-serif" font-weight="bold" fill="#000">0</text>
<text transform="translate(208.52,2274.00) scale(0.9500,1)" x="-2.70" y="0" font-size="77" font-family="'Liberation Sans', sans-serif" font-weight="bold" fill="#000">20</text>
<text transform="translate(207.05,2057.60) scale(0.9500,1)" x="-1.16" y="0" font-size="77" font-family="'Liberation Sans', sans-serif" font-weight="bold" fill="#000">40</text>
<text transform="translate(208.66,1841.20) scale(0.9500,1)" x="-2.85" y="0" font-size="77" font-family="'Liberation Sans', sans-serif" font-weight="bold" fill="#000">60</text>
<text transform="translate(208.30,1624.80) scale(0.9500,1)" x="-2.46" y="0" font-size="77" font-family="'Liberation Sans', sans-serif" font-weight="bold" fill="#000">80</text>
<text transform="translate(169.89,1408.40) scale(0.9500,1)" x="-4.85" y="0" font-size="77" font-family="'Liberation Sans', sans-serif" font-weight="bold" fill="#000">100</text>
<text transform="translate(274.48,2576.00) scale(0.9500,1)" x="-4.85" y="0" font-size="77" font-family="'Liberation Sans', sans-serif" font-weight="bold" fill="#000">10</text>
<text transform="translate(352.72,2533.70) scale(0.9500,1)" x="-1.89" y="0" font-size="44" font-family="'Liberation Sans', sans-serif" font-weight="bold" fill="#000">7</text>
<text transform="translate(671.68,2576.00) scale(0.9500,1)" x="-4.85" y="0" font-size="77" font-family="'Liberation Sans', sans-serif" font-weight="bold" fill="#000">10</text>
<text transform="translate(749.91,2533.70) scale(0.9500,1)" x="-1.41" y="0" font-size="44" font-family="'Liberation Sans', sans-serif" font-weight="bold" fill="#000">8</text>
<text transform="translate(1069.57,2576.00) scale(0.9500,1)" x="-4.85" y="0" font-size="77" font-family="'Liberation Sans', sans-serif" font-weight="bold" fill="#000">10</text>
<text transform="translate(1147.80,2533.70) scale(0.9500,1)" x="-1.54" y="0" font-size="44" font-family="'Liberation Sans', sans-serif" font-weight="bold" fill="#000">9</text>
<text transform="translate(1456.32,2576.00) scale(0.9500,1)" x="-4.85" y="0" font-size="77" font-family="'Liberation Sans', sans-serif" font-weight="bold" fill="#000">10</text>
<text transform="translate(1534.55,2533.70) scale(0.9500,1)" x="-2.77" y="0" font-size="44" font-family="'Liberation Sans', sans-serif" font-weight="bold" fill="#000">10</text>
<text transform="translate(1854.89,2576.00) scale(0.9500,1)" x="-4.85" y="0" font-size="77" font-family="'Liberation Sans', sans-serif" font-weight="bold" fill="#000">10</text>
<text transform="translate(1933.13,2533.70) scale(0.9500,1)" x="-2.77" y="0" font-size="44" font-family="'Liberation Sans', sans-serif" font-weight="bold" fill="#000">11</text>
<text transform="translate(670.30,2680.00) scale(0.9864,1)" x="-5.03" y="0" font-size="75" font-family="'Liberation Sans', sans-serif" font-weight="bold" fill="#000">Dislocation</text>
<text transform="translate(1094.00,2680.00) scale(0.9856,1)" x="-3.08" y="0" font-size="75" font-family="'Liberation Sans', sans-serif" font-weight="bold" fill="#000">density</text>
<text transform="translate(1375.50,2680.00) scale(1.0172,1)" x="-3.75" y="0" font-size="75" font-family="'Liberation Sans', sans-serif" font-weight="bold" fill="#000">(cm</text>
<text transform="translate(1505.60,2637.00) scale(1.0213,1)" x="-1.72" y="0" font-size="44" font-family="'Liberation Sans', sans-serif" font-weight="bold" fill="#000">-2</text>
<text transform="translate(1546.20,2680.00) scale(0.9456,1)" x="-0.07" y="0" font-size="75" font-family="'Liberation Sans', sans-serif" font-weight="bold" fill="#000">)</text>
<text transform="translate(126.20,1299.00) rotate(-90) scale(0.9917,1)" x="-0.82" y="0" font-size="75" font-family="'Liberation Sans', sans-serif" font-weight="bold" fill="#000">Threshold</text>
<text transform="translate(126.20,917.00) rotate(-90) scale(1.0037,1)" x="-2.92" y="0" font-size="75" font-family="'Liberation Sans', sans-serif" font-weight="bold" fill="#000">current</text>
<text transform="translate(126.20,637.30) rotate(-90) scale(0.9764,1)" x="-3.08" y="0" font-size="75" font-family="'Liberation Sans', sans-serif" font-weight="bold" fill="#000">density</text>
<text transform="translate(126.20,354.80) rotate(-90) scale(0.9957,1)" x="-3.75" y="0" font-size="75" font-family="'Liberation Sans', sans-serif" font-weight="bold" fill="#000">(kA/cm</text>
<text transform="translate(85.00,107.00) rotate(-90) scale(0.9639,1)" x="-1.54" y="0" font-size="44" font-family="'Liberation Sans', sans-serif" font-weight="bold" fill="#000">2</text>
<text transform="translate(126.20,81.20) rotate(-90) scale(0.8700,1)" x="-0.07" y="0" font-size="75" font-family="'Liberation Sans', sans-serif" font-weight="bold" fill="#000">)</text>
<text transform="translate(116.00,2474.70) rotate(-90) scale(0.9967,1)" x="-5.03" y="0" font-size="75" font-family="'Liberation Sans', sans-serif" font-weight="bold" fill="#000">Internal</text>
<text transform="translate(116.00,2186.10) rotate(-90) scale(0.9912,1)" x="-3.08" y="0" font-size="75" font-family="'Liberation Sans', sans-serif" font-weight="bold" fill="#000">quantum</text>
<text transform="translate(116.00,1850.50) rotate(-90) scale(0.9881,1)" x="-2.92" y="0" font-size="75" font-family="'Liberation Sans', sans-serif" font-weight="bold" fill="#000">efficiency</text>
<text transform="translate(116.00,1483.70) rotate(-90) scale(0.9833,1)" x="-3.75" y="0" font-size="75" font-family="'Liberation Sans', sans-serif" font-weight="bold" fill="#000">(%)</text>
<text transform="translate(394.70,228.60) scale(0.9262,1)" x="-2.76" y="0" font-size="95" font-family="'Liberation Sans', sans-serif" font-weight="bold" fill="#000">a</text>
<text transform="translate(420.40,2378.60) scale(1.0582,1)" x="-6.14" y="0" font-size="93" font-family="'Liberation Sans', sans-serif" font-weight="bold" fill="#000">b</text>
</svg></body></html>
